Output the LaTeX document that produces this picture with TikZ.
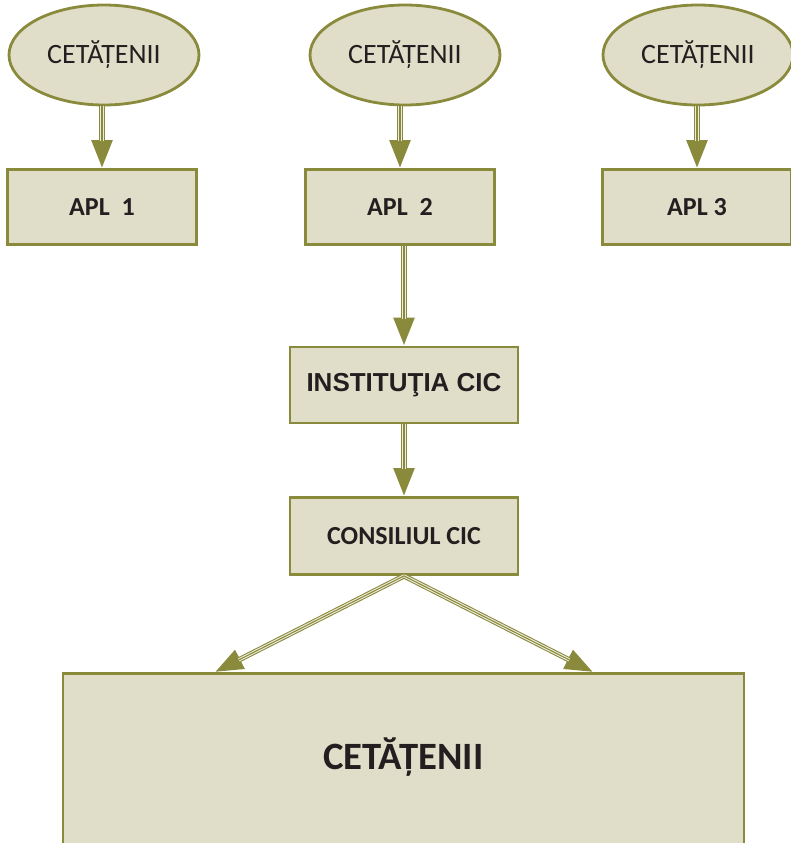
\documentclass[tikz,border=0pt]{standalone}
\usepackage{fontspec}
\setmainfont{Carlito}
\newfontfamily\arialfont{Liberation Sans}
\usetikzlibrary{shapes.geometric,arrows.meta}
\definecolor{olivec}{HTML}{8A8A3C}
\definecolor{fillc}{HTML}{E0DEC8}
\definecolor{textc}{HTML}{231F20}
\tikzset{cit/.style={ellipse,draw=olivec,fill=fillc,line width=2.1pt,minimum width=142.5pt,minimum height=75pt,inner sep=0pt,text=textc,font=\fontsize{21}{24}\selectfont},
         apl/.style={rectangle,draw=olivec,fill=fillc,line width=2.1pt,minimum width=141.75pt,minimum height=56.25pt,inner sep=0pt,text=textc,font=\bfseries\fontsize{19.5}{22}\selectfont},
         conn/.style={draw=olivec,line width=4pt,-{Triangle[width=15pt,length=21pt]},
                      postaction={draw=fillc!60!white,line width=2.4pt,-,shorten >=20pt},
                      postaction={draw=olivec,line width=0.8pt,-,shorten >=20pt}}}

\begin{document}
\begin{tikzpicture}[x=0.75pt,y=-0.75pt]
                   \useasboundingbox (0,0) rectangle (791,843);
                   \node[cit] (cit1) at (104,55) {CETĂȚENII};
                   \node[cit] (cit2) at (405,55) {CETĂȚENII};
                   \node[cit] (cit3) at (698,55) {CETĂȚENII};
                   \node[apl] (apl1) at (102,207) {APL\ \ 1};
                   \node[apl] (apl2) at (400,207) {APL\ \ 2};
                   \node[apl] (apl3) at (697,207) {APL 3};
                   \node[apl,minimum width=171pt,minimum height=57pt,font=\arialfont\bfseries\fontsize{19.5}{22}\selectfont] (inst) at (404,385) {INSTITUŢIA CIC};
                   \node[apl,minimum width=171pt,minimum height=57.75pt] (cons) at (404,536) {CONSILIUL CIC};
                   \node[apl,anchor=north,minimum width=510.75pt,minimum height=180pt] (big) at (403.5,672) {};
                   \node[text=textc,font=\bfseries\fontsize{29}{32}\selectfont] (bigtxt) at (403.5,757) {CETĂȚENII};
                   \coordinate (bl) at (215,672);
                   \coordinate (br) at (593,672);
                    \draw[conn] (apl1.north |- cit1.south) -- (apl1.north);
                    \draw[conn] (apl2.north |- cit2.south) -- (apl2.north);
                    \draw[conn] (apl3.north |- cit3.south) -- (apl3.north);
                    \draw[conn] (inst.north |- apl2.south) -- (inst.north);
                    \draw[conn] (inst.south) -- (cons.north);
                    \draw[conn] (cons.south) -- (bl);
                    \draw[conn] (cons.south) -- (br);
                \end{tikzpicture}
\end{document}
